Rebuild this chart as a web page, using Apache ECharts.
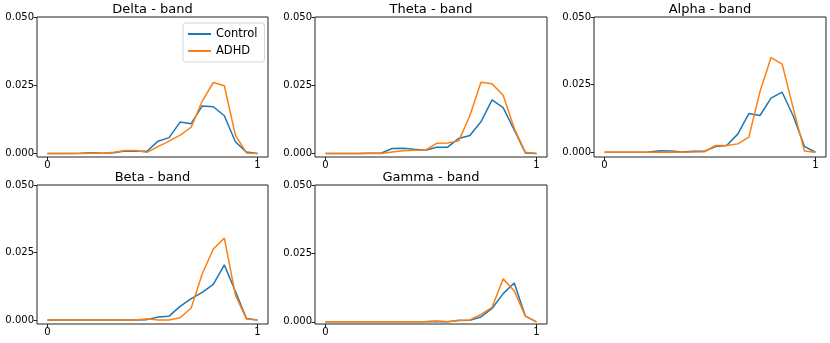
<!DOCTYPE html>
<html>
<head>
<meta charset="utf-8">
<script src="https://cdn.jsdelivr.net/npm/echarts@6/dist/echarts.min.js"></script>
<style>
    body { margin: 0; background: #fff; }
    #bandChart { width: 830px; height: 343px; }
</style>
</head>
<body>
<div id="bandChart"></div>
<script>
    // x 位置 (20 个点, 0 到 1)
    const xValues = [0, 0.0526, 0.1053, 0.1579, 0.2105, 0.2632, 0.3158, 0.3684, 0.4211, 0.4737,
                     0.5263, 0.5789, 0.6316, 0.6842, 0.7368, 0.7895, 0.8421, 0.8947, 0.9474, 1];

    const bandNames = ['Delta - band', 'Theta - band', 'Alpha - band', 'Beta - band', 'Gamma - band'];
    const groupNames = ['Control', 'ADHD'];
    const xTicks = [0, 1];
    const yTicks = [0, 0.025, 0.05];

    const deltaControl = [0, 0, 0, 0.0001, 0.0003, 0.0001, 0.0003, 0.0009, 0.0008, 0.0008,
                          0.0045, 0.0058, 0.0115, 0.0109, 0.0174, 0.0171, 0.0138, 0.0043, 0.0005, 0];
    const deltaAdhd = [0, 0, 0, 0, 0.0001, 0.0001, 0.0004, 0.0011, 0.0011, 0.0004,
                       0.0025, 0.0045, 0.0067, 0.0096, 0.0192, 0.026, 0.0248, 0.0067, 0.0002, 0];

    const thetaControl = [0, 0, 0, 0, 0.0001, 0.0001, 0.0018, 0.0019, 0.0015, 0.0012,
                          0.0023, 0.0023, 0.0055, 0.0066, 0.0116, 0.0196, 0.0168, 0.0086, 0.0002, 0];
    const thetaAdhd = [0, 0, 0, 0, 0.0001, 0, 0.0005, 0.001, 0.0012, 0.0012,
                       0.0037, 0.0038, 0.0046, 0.0138, 0.0261, 0.0255, 0.0213, 0.0092, 0.0004, 0];

    const alphaControl = [0, 0, 0, 0, 0.0001, 0.0006, 0.0005, 0.0001, 0.0004, 0.0004,
                          0.0021, 0.0025, 0.0067, 0.0143, 0.0136, 0.02, 0.0222, 0.0134, 0.0022, 0];
    const alphaAdhd = [0, 0, 0, 0, 0, 0, 0.0001, 0, 0.0001, 0.0002,
                       0.0025, 0.0025, 0.0031, 0.0056, 0.0224, 0.035, 0.0326, 0.0163, 0.0005, 0];

    const betaControl = [0, 0, 0, 0, 0, 0, 0, 0, 0, 0.0001,
                         0.0011, 0.0014, 0.005, 0.0079, 0.0102, 0.0132, 0.0204, 0.0106, 0.0005, 0];
    const betaAdhd = [0, 0, 0, 0, 0, 0, 0, 0, 0, 0.0004,
                      0, 0, 0.0008, 0.0044, 0.017, 0.0263, 0.0303, 0.0093, 0.0003, 0];

    const gammaControl = [0, 0, 0, 0, 0, 0, 0, 0, 0, 0,
                          0.0001, 0, 0.0005, 0.0006, 0.0018, 0.0049, 0.0103, 0.0142, 0.0021, 0];
    const gammaAdhd = [0, 0, 0, 0, 0, 0, 0, 0, 0, 0.0001,
                       0.0003, 0, 0.0006, 0.0007, 0.0027, 0.0053, 0.0157, 0.0113, 0.0021, 0];

    const bandData = [
        [deltaControl, deltaAdhd],
        [thetaControl, thetaAdhd],
        [alphaControl, alphaAdhd],
        [betaControl, betaAdhd],
        [gammaControl, gammaAdhd]
    ];

    // 每个子图的位置
    const layout = [
        { left: 37, top: 17, width: 231, height: 140 },
        { left: 315, top: 17, width: 232, height: 140 },
        { left: 594, top: 17, width: 232, height: 140 },
        { left: 37, top: 185, width: 231, height: 139 },
        { left: 315, top: 185, width: 232, height: 139 }
    ];
    const colors = ['#1f77b4', '#ff7f0e'];
    const fontFamily = 'DejaVu Sans';

    function drawBandChart () {
        let chart = echarts.init(document.getElementById('bandChart'));
        let grids = [], xAxes = [], yAxes = [], titles = [], series = [];

        bandNames.forEach(function (name, k) {
            let box = layout[k];
            let top = Math.max.apply(null, bandData[k][0].concat(bandData[k][1]));

            grids.push({
                left: box.left, top: box.top, width: box.width, height: box.height,
                show: true, borderColor: '#222', borderWidth: 1, backgroundColor: 'transparent'
            });
            titles.push({
                text: name,
                left: box.left + box.width / 2,
                top: box.top - 14,
                textAlign: 'center',
                padding: 0,
                textStyle: { fontFamily: fontFamily, fontSize: 13, fontWeight: 'normal', color: '#000' }
            });
            xAxes.push({
                type: 'value', gridIndex: k, min: -0.05, max: 1.05,
                splitLine: { show: false },
                axisLine: { show: false, onZero: false },
                axisTick: { show: true, length: 3.5, customValues: xTicks, lineStyle: { color: '#222' } },
                axisLabel: {
                    customValues: xTicks, margin: 3, fontSize: 10, color: '#000', fontFamily: fontFamily,
                    formatter: function (v) { return String(v); }
                }
            });
            yAxes.push({
                type: 'value', gridIndex: k, min: -0.05 * top, max: 0.05,
                splitLine: { show: false },
                axisLine: { show: false, onZero: false },
                axisTick: { show: true, length: 3.5, customValues: yTicks, lineStyle: { color: '#222' } },
                axisLabel: {
                    customValues: yTicks, margin: 3, fontSize: 10, color: '#000', fontFamily: fontFamily,
                    formatter: function (v) { return v.toFixed(3); }
                }
            });
            groupNames.forEach(function (group, g) {
                series.push({
                    name: group,
                    type: 'line',
                    xAxisIndex: k,
                    yAxisIndex: k,
                    symbol: 'none',
                    color: colors[g],
                    lineStyle: { width: 1.5, color: colors[g] },
                    z: 2 + g,
                    data: xValues.map(function (x, i) { return [x, bandData[k][g][i]]; })
                });
            });
        });

        let option = {
            animation: false,
            title: titles,
            legend: {
                data: groupNames,
                orient: 'vertical',
                left: 183, top: 23,
                icon: 'rect', itemWidth: 23, itemHeight: 2, itemGap: 5, itemTextGap: 8,
                padding: [5, 7, 5, 5],
                borderColor: '#d5d5d5', borderWidth: 1, borderRadius: 3,
                textStyle: { fontFamily: fontFamily, fontSize: 11.5, color: '#000' }
            },
            grid: grids,
            xAxis: xAxes,
            yAxis: yAxes,
            series: series
        };
        chart.setOption(option);
    }

    drawBandChart();
</script>
</body>
</html>
